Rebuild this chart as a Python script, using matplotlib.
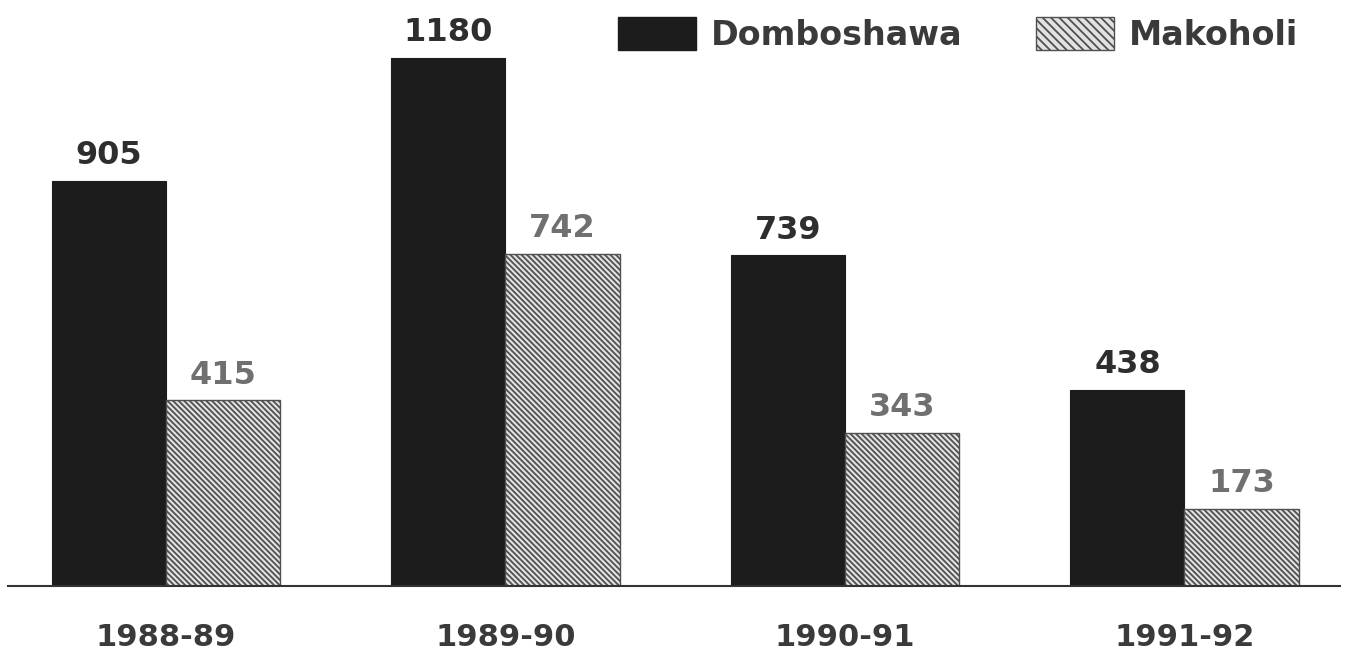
import matplotlib
matplotlib.use("Agg")
import matplotlib.pyplot as plt
import numpy as np
from matplotlib.patches import Patch

categories = ["1988-89", "1989-90", "1990-91", "1991-92"]
domboshawa = [905, 1180, 739, 438]
makoholi = [415, 742, 343, 173]
series_names = ["Domboshawa", "Makoholi"]

plt.rcParams['font.family'] = ['DejaVu Sans']
plt.rcParams['hatch.linewidth'] = 1.3

fig = plt.figure(figsize=(13.51, 6.53), dpi=100)
ax = fig.add_axes([8/1351, (653-586)/653, (1340-8)/1351, 586/653])

x = np.arange(len(categories))
w = 0.336
ax.bar(x - w/2, domboshawa, width=w, color='#1c1c1c', edgecolor='#1c1c1c', linewidth=0.8)
ax.bar(x + w/2, makoholi, width=w, color='#e2e2e2', edgecolor='#505050',
       linewidth=1.0, hatch='\\' * 6)

for xi, v in zip(x - w/2, domboshawa):
    ax.text(xi, v + 22, str(v), ha='center', va='bottom', fontsize=23,
            fontweight='bold', color='#2e2e2e')
for xi, v in zip(x + w/2, makoholi):
    ax.text(xi, v + 22, str(v), ha='center', va='bottom', fontsize=23,
            fontweight='bold', color='#707070')

ax.set_xlim(-0.465, 3.458)
ax.set_ylim(0, 1310)
for s in ['top', 'right', 'left']:
    ax.spines[s].set_visible(False)
ax.spines['bottom'].set_linewidth(1.5)
ax.spines['bottom'].set_color('#333333')
ax.set_yticks([])
ax.set_xticks(x)
ax.set_xticklabels(categories, fontsize=22, fontweight='bold', color='#3a3a3a')
ax.tick_params(axis='x', length=0, pad=27)

handles = [Patch(facecolor='#1c1c1c', edgecolor='#1c1c1c'),
           Patch(facecolor='#e2e2e2', edgecolor='#505050', hatch='\\' * 4)]
leg = fig.legend(handles, series_names, loc='upper left',
                 bbox_to_anchor=(618/1351, 1 - 17/653),
                 ncol=2, frameon=False, handlelength=2.35, handleheight=1.15,
                 columnspacing=2.2, handletextpad=0.44, borderpad=0, borderaxespad=0,
                 prop={'weight': 'bold', 'size': 24})
for t in leg.get_texts():
    t.set_color('#3a3a3a')

fig.savefig("out.png", dpi=100)
